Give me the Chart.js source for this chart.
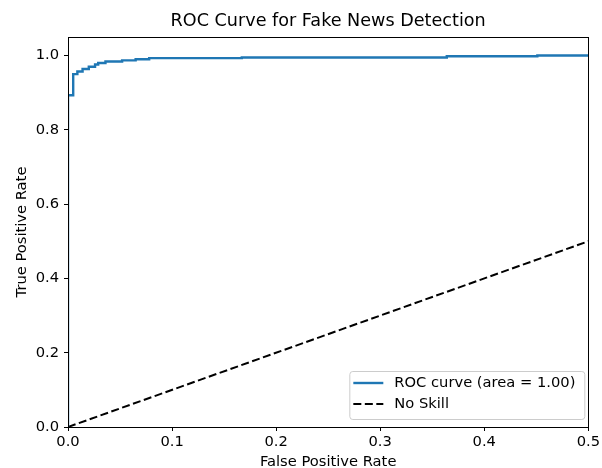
<!DOCTYPE html>
<html>
<head>
<meta charset="utf-8">
<script src="https://cdn.jsdelivr.net/npm/chart.js@4.4.1/dist/chart.umd.min.js"></script>
<style>
  html, body { margin: 0; padding: 0; background: #fff; }
  #wrap { width: 602px; height: 468px; position: relative; }
</style>
</head>
<body>
<div id="wrap"><canvas id="c" width="602" height="468"></canvas></div>
<script>
// ---- data ----
const rocFpr = [0, 0, 0.005, 0.009, 0.014, 0.020, 0.026, 0.029, 0.036, 0.052, 0.065, 0.078, 0.167, 0.364, 0.451, 0.5];
const rocTpr = [0, 0.893, 0.950, 0.957, 0.964, 0.970, 0.976, 0.980, 0.984, 0.987, 0.990, 0.993, 0.995, 0.998, 1.0, 1.0];
const skillX = [0, 0.5];
const skillY = [0, 0.5];
const xTicks = [0, 0.1, 0.2, 0.3, 0.4, 0.5];
const yTicks = [0, 0.2, 0.4, 0.6, 0.8, 1.0];
const titleText = 'ROC Curve for Fake News Detection';
const xLabel = 'False Positive Rate';
const yLabel = 'True Positive Rate';
const rocLabel = 'ROC curve (area = 1.00)';
const skillLabel = 'No Skill';

const FONT = "'DejaVu Sans', sans-serif";
const TXT = '#000';
const FS = 14.7;

const framePlugin = {
  id: 'frame',
  afterDatasetsDraw(chart) {
    const {ctx, chartArea: a} = chart;
    ctx.save();
    ctx.strokeStyle = '#000';
    ctx.lineWidth = 1;
    ctx.strokeRect(Math.round(a.left) + 0.5, Math.round(a.top) + 0.5,
                   Math.round(a.right - a.left), Math.round(a.bottom - a.top));
    ctx.restore();
  }
};

const titlePlugin = {
  id: 'mtitle',
  afterDraw(chart) {
    const {ctx, chartArea: a} = chart;
    ctx.save();
    ctx.font = '17.6px ' + FONT;
    ctx.fillStyle = TXT;
    ctx.textAlign = 'center';
    ctx.textBaseline = 'middle';
    ctx.fillText(titleText, (a.left + a.right) / 2, 21);
    ctx.restore();
  }
};

const legendPlugin = {
  id: 'mlegend',
  afterDraw(chart) {
    const {ctx, chartArea: a} = chart;
    const ds = chart.data.datasets;
    const w = 235, h = 48;
    const x0 = a.right - 4 - w, y0 = a.bottom - 8 - h;
    ctx.save();
    ctx.fillStyle = 'rgba(255,255,255,0.8)';
    ctx.strokeStyle = '#cccccc';
    ctx.lineWidth = 1;
    ctx.beginPath();
    ctx.roundRect(x0 + 0.5, y0 + 0.5, w, h, 3);
    ctx.fill();
    ctx.stroke();
    ctx.font = FS + 'px ' + FONT;
    ctx.textBaseline = 'middle';
    ctx.textAlign = 'left';
    ds.forEach((d, i) => {
      const cy = y0 + 12 + i * 21;
      ctx.strokeStyle = d.borderColor;
      ctx.lineWidth = d.borderWidth;
      ctx.setLineDash(d.borderDash || []);
      ctx.beginPath();
      ctx.moveTo(x0 + 4, cy);
      ctx.lineTo(x0 + 34, cy);
      ctx.stroke();
      ctx.setLineDash([]);
      ctx.fillStyle = TXT;
      ctx.fillText(d.label, x0 + 45, cy);
    });
    ctx.restore();
  }
};

new Chart(document.getElementById('c'), {
  type: 'line',
  data: {
    datasets: [
      {
        label: rocLabel,
        data: rocFpr.map((x, i) => ({x: x, y: rocTpr[i]})),
        borderColor: '#1f77b4',
        borderWidth: 2.4,
        pointRadius: 0,
        stepped: 'before',
        fill: false
      },
      {
        label: skillLabel,
        data: skillX.map((x, i) => ({x: x, y: skillY[i]})),
        borderColor: '#000000',
        borderWidth: 2,
        borderDash: [8, 3.5],
        pointRadius: 0,
        fill: false
      }
    ]
  },
  options: {
    responsive: false,
    animation: false,
    layout: { padding: { top: 37, right: 12, left: 0, bottom: 0 } },
    plugins: {
      legend: { display: false },
      title: { display: false },
      tooltip: { enabled: false }
    },
    scales: {
      x: {
        type: 'linear',
        min: 0, max: 0.5,
        afterBuildTicks(s) { s.ticks = xTicks.map(v => ({value: v})); },
        afterFit(s) { s.height = 41; },
        grid: { drawOnChartArea: false, drawTicks: true, tickLength: 4, color: '#000', tickWidth: 1 },
        border: { display: true, color: '#000', width: 1 },
        ticks: { color: TXT, font: { family: FONT, size: FS }, padding: 2, maxRotation: 0,
                 callback: v => Number(v).toFixed(1) },
        title: { display: true, text: xLabel, color: TXT, font: { family: FONT, size: FS, lineHeight: 0.8 }, padding: { top: 0, bottom: 0 } }
      },
      y: {
        type: 'linear',
        min: 0, max: 1.05,
        afterBuildTicks(s) { s.ticks = yTicks.map(v => ({value: v})); },
        afterFit(s) { s.width = 68; },
        grid: { drawOnChartArea: false, drawTicks: true, tickLength: 4, color: '#000', tickWidth: 1 },
        border: { display: true, color: '#000', width: 1 },
        ticks: { color: TXT, font: { family: FONT, size: FS }, padding: 5,
                 callback: v => Number(v).toFixed(1) },
        title: { display: true, text: yLabel, color: TXT, font: { family: FONT, size: FS, lineHeight: 0.8 }, padding: { top: 16, bottom: 0 } }
      }
    }
  },
  plugins: [framePlugin, titlePlugin, legendPlugin]
});
</script>
</body>
</html>
